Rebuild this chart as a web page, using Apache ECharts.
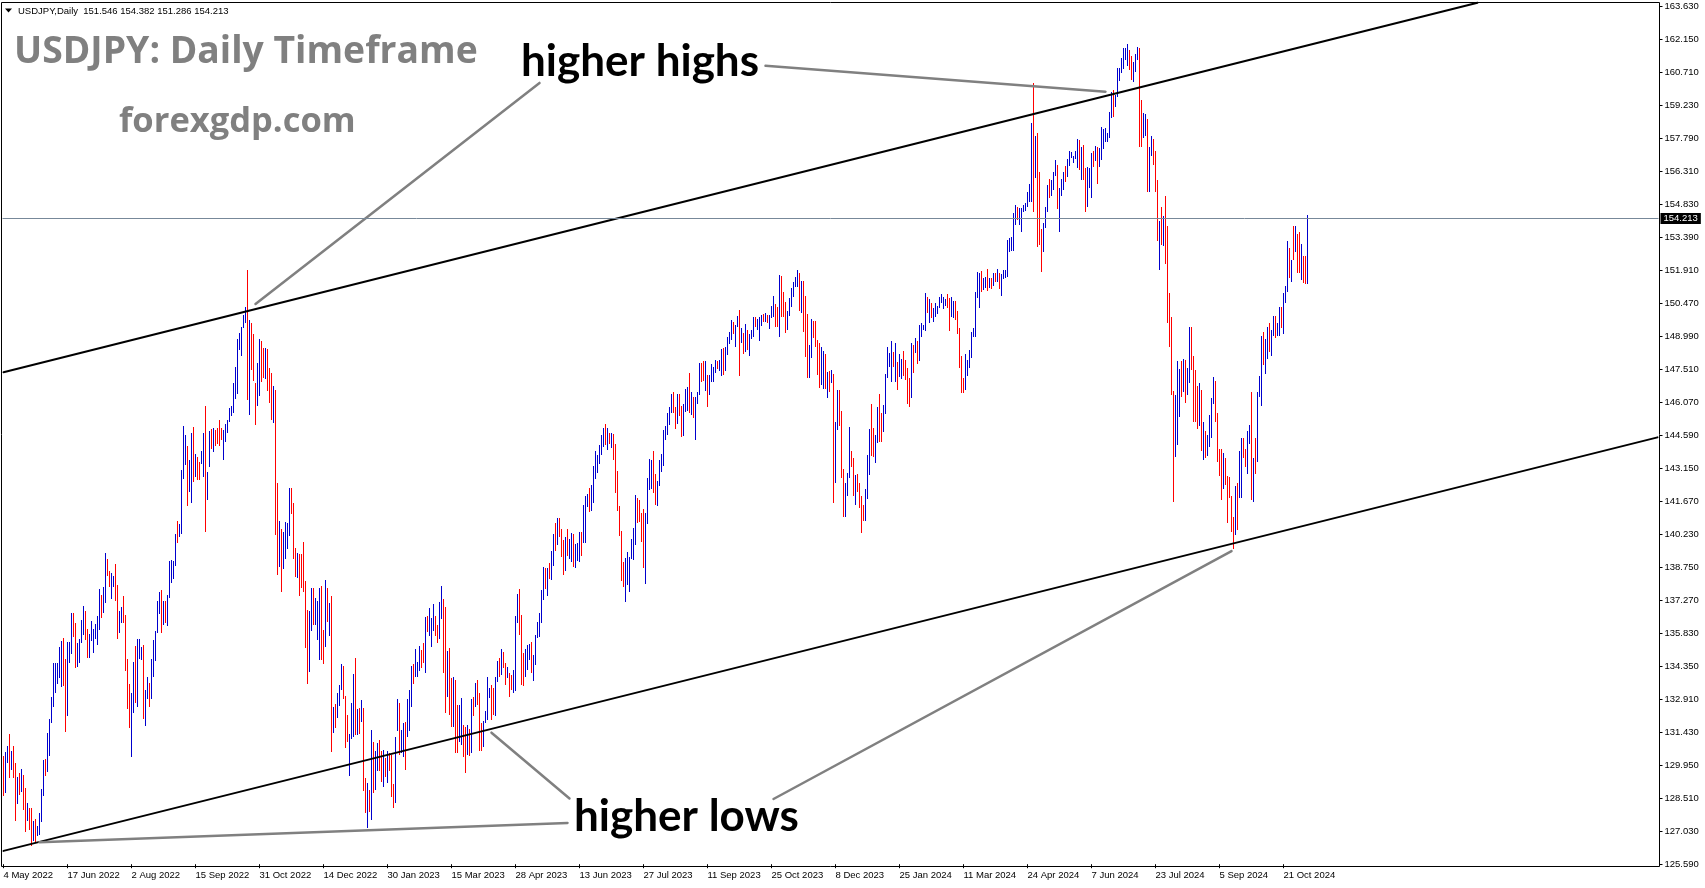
<!DOCTYPE html>
<html><head><meta charset="utf-8">
<script src="https://cdn.jsdelivr.net/npm/echarts@6/dist/echarts.min.js"></script>
<style>html,body{margin:0;padding:0;background:#fff}#c{width:1705px;height:888px}</style>
</head><body><div id="c"></div>
<script>
// ---- daily bars [open, high, low, close] ----
const bars2022 = [
[130.10,130.38,128.61,129.10],[129.10,130.58,128.76,130.20],[130.20,130.83,130.09,130.55],[130.55,131.36,129.43,130.25],[130.25,130.61,129.77,130.45],[130.45,130.83,129.43,129.95],[129.95,130.09,127.52,128.30],[128.30,129.47,128.26,129.25],[129.25,129.65,128.66,129.15],[129.15,129.82,128.80,129.35],[129.35,129.54,128.00,128.25],[128.25,128.98,127.03,127.80],[127.80,128.29,127.52,127.90],[127.90,128.07,127.11,127.85],[127.85,128.07,126.40,126.85],[126.85,127.52,126.62,127.30],[127.30,127.58,126.54,127.10],[127.10,127.28,126.84,127.12],[127.12,127.84,126.87,127.60],[127.60,128.92,127.47,128.70],
[128.70,130.21,128.61,130.05],[130.05,130.25,129.50,129.85],[129.85,131.42,129.69,130.90],[130.90,132.01,130.39,131.90],[131.90,133.02,131.86,132.70],[132.70,134.52,132.57,134.25],[133.90,134.52,133.16,134.35],[134.00,134.52,133.58,134.40],[134.20,135.23,133.83,134.45],[134.45,135.50,133.46,135.45],[135.45,135.62,133.49,133.90],[133.90,134.67,131.46,132.20],[132.20,135.45,132.16,135.00],[135.00,135.45,134.52,135.10],[135.10,136.74,134.91,136.60],[136.60,136.74,135.67,136.25],[136.25,136.30,134.27,134.90],[134.90,135.38,134.34,135.20],[135.20,135.59,134.49,135.45],[135.45,136.41,135.38,136.15],[136.15,137.03,135.75,136.60],[136.60,136.83,135.53,135.70],
[135.70,136.03,134.74,135.20],[135.20,135.79,134.74,135.70],[135.70,136.38,135.48,135.90],[135.85,136.03,134.94,135.92],[135.92,136.24,135.56,136.00],[136.00,136.59,135.30,136.10],[136.10,137.77,135.97,137.40],[137.40,137.52,136.49,136.85],[136.85,137.86,136.71,137.45],[137.45,139.37,137.18,138.95],[138.95,139.10,138.36,138.55],[138.55,138.60,137.89,138.15],[138.15,138.48,137.33,138.20],[138.05,138.36,137.89,138.25],[138.25,138.90,137.26,137.40],[137.40,137.96,135.56,136.10],[136.10,136.83,135.85,136.65],[136.65,137.00,136.27,136.95],[136.95,137.48,136.30,136.60],[136.60,136.65,134.17,134.25],[134.25,134.70,132.48,133.25],
[133.25,133.58,131.61,131.65],[131.65,133.19,130.36,133.10],[133.10,134.55,132.28,133.85],[133.85,135.26,132.75,133.00],[133.00,135.56,132.54,135.00],[134.90,135.59,134.67,135.00],[135.00,135.23,134.64,135.10],[135.10,135.30,132.01,132.90],[132.90,133.31,131.72,133.00],[133.00,133.90,132.90,133.45],[133.45,133.64,132.54,133.30],[133.30,134.70,132.93,134.20],[134.20,135.53,133.90,135.00],[135.00,135.94,134.61,135.85],[135.85,137.27,135.85,137.00],[137.00,137.65,136.68,137.45],[137.45,137.74,135.82,136.75],[136.75,137.27,136.18,137.10],[137.10,137.24,136.27,136.55],[136.55,137.51,136.15,137.45],[137.45,139.04,137.40,138.75],[138.75,139.07,138.04,138.80],[138.80,139.04,138.22,138.95],
[138.95,140.23,138.81,140.20],[140.20,140.82,139.84,140.15],[140.15,140.67,140.08,140.55],[140.55,143.06,140.23,142.80],[142.80,145.01,142.65,144.00],[144.00,144.60,143.28,144.10],[144.10,144.12,141.47,142.60],[142.60,143.51,142.10,142.80],[142.80,144.70,141.61,144.55],[144.55,144.96,142.52,143.15],[143.15,143.78,142.77,143.50],[143.50,143.64,142.64,142.90],[143.20,143.43,142.62,142.95],[143.40,143.92,143.34,143.75],[143.75,144.70,142.77,144.40],[144.40,145.89,140.31,142.35],[142.35,142.96,141.73,142.70],[143.30,144.78,143.20,144.70],[144.70,144.87,144.01,144.60],[144.15,144.91,143.87,144.40],[144.45,144.82,144.13,144.30],[144.60,144.92,144.22,144.50],
[144.80,145.27,144.13,144.55],[144.70,144.92,144.40,144.50],[143.90,144.82,143.52,144.60],[144.60,145.10,144.31,145.05],[144.90,145.27,144.69,145.20],[145.30,145.80,145.19,145.70],[145.65,145.89,145.45,145.80],[145.80,146.94,145.57,146.85],[146.85,147.64,146.20,147.20],[147.20,148.87,146.45,148.70],[148.70,149.13,148.38,149.00],[148.90,149.40,148.13,149.25],[149.40,149.92,149.36,149.85],[149.85,150.27,149.57,150.20],[150.20,151.92,146.15,147.65],[147.65,149.71,145.50,148.95],[148.95,149.57,147.51,148.15],[148.15,149.08,147.01,147.20],[146.90,146.94,145.05,146.25],[146.25,147.82,145.92,147.55],[147.55,148.87,146.33,148.70],
[148.70,148.80,146.98,148.15],[148.15,148.49,147.15,147.90],[147.90,148.49,147.08,148.25],[148.25,148.41,146.56,146.60],[146.80,147.57,146.03,146.65],[146.65,147.38,145.27,145.60],[145.60,146.77,145.13,146.40],[146.40,146.63,140.19,141.00],[141.00,142.47,138.43,138.80],[138.80,140.80,138.78,139.90],[139.90,140.45,137.64,139.25],[139.25,140.31,138.66,139.50],[139.50,140.75,139.13,140.20],[140.20,140.71,139.57,140.35],[140.35,142.26,140.13,142.05],[142.05,142.26,141.12,141.25],[141.25,141.62,139.13,139.55],[139.55,139.62,138.31,138.50],[138.50,139.40,138.29,139.15],[139.15,139.36,137.50,138.10],[138.60,139.34,137.82,138.10],[138.90,139.89,137.64,138.00],
[138.00,138.13,135.18,135.30],[135.30,136.85,133.57,134.25],[134.25,136.81,134.13,136.70],[136.70,137.82,135.92,137.15],[137.15,137.85,136.20,136.60],[136.60,137.41,136.20,136.70],[136.10,137.24,135.54,136.55],[136.55,137.85,134.66,137.70],[137.70,137.94,134.66,135.55],[135.55,135.97,134.48,135.40],[135.40,138.17,135.22,137.75],[137.75,137.82,136.32,136.60],[136.60,137.15,135.71,136.95],[136.95,137.47,130.57,131.70],[131.70,132.55,131.41,132.40],[132.50,132.69,131.64,132.30],[132.30,133.20,132.08,132.85],[132.85,133.55,132.62,133.40],[133.40,134.48,133.29,134.30],[134.30,134.39,132.90,133.10],[133.04,133.04,130.73,131.30],[132.10,132.20,131.01,131.15]
];
const bars2023 = [
[130.60,131.36,129.48,131.05],[131.20,132.73,131.15,132.55],[132.55,134.04,131.24,133.90],[133.90,134.75,131.33,132.10],[132.10,132.46,131.33,132.25],[132.25,132.50,131.36,132.15],[132.15,132.85,131.89,132.45],[132.45,132.50,128.83,129.20],[129.20,129.43,127.85,127.90],[127.90,129.17,127.20,128.50],[128.50,128.90,127.90,128.10],[128.10,131.53,127.55,128.90],[130.80,131.01,128.73,128.95],[128.95,130.62,128.90,129.60],[129.75,130.97,129.74,130.70],[130.70,131.11,129.71,130.15],[130.15,130.62,129.25,129.60],[129.60,130.65,129.03,130.25],[130.25,130.31,129.47,129.90],[129.90,130.61,129.20,130.40],[130.40,130.53,129.74,130.05],
[130.05,130.43,128.55,128.90],[128.90,129.14,128.07,128.65],[128.65,131.24,128.32,131.15],[131.55,132.91,131.51,132.60],[132.60,132.75,130.43,131.05],[131.05,131.54,130.53,131.40],[131.40,131.86,130.32,131.55],[131.55,131.91,129.77,131.30],[131.30,132.91,131.21,132.45],[132.45,133.31,131.51,133.15],[133.15,134.38,132.54,134.15],[134.15,134.46,133.58,133.90],[133.95,135.14,133.90,134.15],[134.05,134.57,133.90,134.25],[134.25,135.26,134.17,134.95],[134.95,135.08,134.27,134.85],[134.90,135.38,134.52,134.70],[134.70,136.56,134.05,136.45],[136.45,136.59,135.90,136.20],[136.20,136.93,135.70,136.25],
[135.90,136.49,135.23,136.15],[136.15,137.12,135.94,136.75],[136.55,136.59,135.70,135.85],[136.00,136.19,135.38,135.90],[135.90,137.21,135.56,137.15],[137.15,137.92,136.47,137.25],[137.25,137.35,134.08,136.10],[136.10,137.01,132.28,134.95],[133.20,135.05,133.02,133.40],[134.50,135.16,132.20,134.20],[133.80,133.83,131.69,133.40],[132.10,133.87,131.66,133.75],[133.70,133.75,130.50,131.85],[132.20,132.65,130.53,131.30],[131.30,132.65,131.02,132.45],[131.10,132.94,130.87,131.45],[131.45,131.76,130.32,130.80],[130.80,131.69,129.65,130.70],[130.70,131.76,130.43,131.55],[131.55,131.57,130.39,130.90],[130.90,132.90,130.50,132.85],[132.85,133.02,132.16,132.70],[132.70,133.61,132.57,133.25],
[133.25,133.75,132.65,132.90],[132.90,133.16,130.62,131.55],[131.55,131.86,130.62,131.35],[131.35,131.95,130.77,131.80],[131.85,132.38,131.83,132.15],[132.15,133.90,131.98,133.65],[133.00,133.39,132.94,133.25],[133.25,133.53,131.98,133.00],[133.00,133.39,132.20,132.55],[132.55,133.87,132.16,133.80],[133.80,134.61,133.68,134.50],[134.50,134.71,133.87,134.10],[134.10,135.11,133.98,134.70],[134.70,135.01,134.27,134.30],[134.30,134.49,133.53,134.15],[134.00,134.32,133.83,134.20],[134.00,134.05,133.02,133.70],[133.70,133.98,133.31,133.65],[133.65,134.20,133.19,133.95],[133.95,136.59,133.28,136.30],
[136.30,137.57,136.27,137.45],[137.45,137.77,135.75,136.55],[136.55,136.64,133.53,134.65],[134.65,134.94,133.49,134.25],[134.25,135.11,133.87,134.85],[134.85,135.31,134.20,135.15],[135.15,135.35,134.64,135.20],[135.20,135.45,134.08,134.35],[134.35,134.86,133.72,134.55],[134.55,135.75,134.42,135.70],[135.70,136.34,135.60,136.10],[136.10,136.71,135.65,136.40],[136.40,137.74,136.30,137.60],[137.60,138.78,137.30,138.70],[138.65,138.70,137.77,137.95],[137.95,138.70,137.48,138.55],[138.60,138.93,138.22,138.55],[138.55,139.47,138.19,139.25],[139.25,140.23,138.81,139.95],[140.50,140.73,139.49,140.05],[140.05,140.95,139.74,140.45],[140.65,140.95,140.11,140.25],[140.25,140.43,139.22,139.35],
[139.35,139.96,138.41,138.80],[138.80,140.11,138.60,139.95],[139.95,140.43,139.25,139.60],[139.50,139.99,139.10,139.65],[139.65,140.26,139.00,140.15],[140.15,140.22,138.78,139.05],[139.05,139.78,138.70,139.40],[139.40,139.81,139.04,139.55],[139.55,140.30,139.00,140.20],[140.20,140.30,139.25,140.05],[140.05,141.51,139.84,140.95],[140.30,141.91,139.84,141.80],[141.80,142.00,141.44,141.95],[141.95,142.25,141.22,141.50],[141.50,142.40,141.26,141.90],[141.90,143.24,141.61,143.10],[143.10,143.92,142.65,143.70],[143.10,143.73,142.92,143.50],[143.50,144.17,143.33,144.05],[144.05,144.61,143.73,144.50],[144.50,144.91,144.07,144.80],[144.80,145.10,144.17,144.30],
[144.30,144.91,143.95,144.65],[144.65,144.72,144.22,144.45],[144.45,144.72,144.02,144.60],[144.60,144.66,143.51,144.05],[144.05,144.22,142.06,142.20],[142.50,143.02,141.26,141.35],[141.35,141.47,140.13,140.35],[140.35,140.37,138.16,138.50],[138.50,139.00,137.89,138.10],[138.10,139.15,137.23,138.85],[138.85,139.44,137.97,139.30],[138.70,139.19,137.67,139.10],[139.15,139.99,139.10,139.70],[139.70,140.48,139.07,140.10],[140.10,141.96,139.74,141.75],[141.75,141.81,140.70,141.45],[141.45,141.73,140.77,140.90],[140.90,141.17,139.89,140.25],[140.30,141.32,138.70,139.45],[139.45,141.17,138.01,141.15],[141.15,142.69,140.67,142.30],
[142.30,143.54,142.18,143.35],[142.80,143.51,142.21,143.30],[143.30,143.92,142.06,142.55],[142.55,142.89,141.51,141.75],[141.75,142.59,141.47,142.45],[142.45,143.51,142.35,143.35],[143.35,143.77,142.99,143.70],[143.70,144.84,143.24,144.75],[144.75,145.01,144.39,144.95],[144.95,145.60,144.61,145.55],[145.55,145.87,145.06,145.60],[145.60,146.43,145.57,146.35],[146.35,146.53,145.60,145.80],[145.80,145.87,144.87,145.35],[145.35,146.43,145.10,146.20],[146.20,146.43,145.46,145.85],[145.85,145.90,144.54,144.85],[144.85,145.99,144.57,145.85],[145.85,146.64,145.65,146.45],[146.40,146.76,145.69,146.50],[146.50,147.35,145.60,145.90],[145.90,146.53,145.50,146.20],[146.20,146.28,145.35,145.55],
[145.55,146.31,144.39,146.20],[146.20,146.53,146.00,146.50],[146.50,147.82,146.39,147.70],[147.70,147.82,146.98,147.65],[147.65,147.91,147.02,147.25],[147.25,147.91,146.58,147.80],[147.20,147.27,145.87,146.55],[146.55,147.27,146.39,147.10],[147.10,147.76,146.98,147.45],[147.45,147.61,146.98,147.50],[147.50,147.94,147.35,147.85],[147.85,147.91,147.52,147.60],[147.60,147.94,147.47,147.85],[147.85,148.41,147.23,148.35],[148.35,148.46,147.27,147.55],[147.55,148.50,147.47,148.40],[148.40,148.97,148.16,148.85],[148.85,149.20,148.65,149.05],[149.05,149.71,148.83,149.60],[149.60,149.64,149.09,149.30],[149.25,149.49,148.53,149.35],
[149.40,149.89,149.39,149.85],[149.85,150.16,147.23,149.00],[149.00,149.34,148.71,149.10],[149.10,149.12,148.21,148.50],[148.50,149.53,148.31,149.30],[149.20,149.27,148.38,148.50],[148.50,149.09,148.12,148.75],[148.90,149.29,148.85,149.10],[149.10,149.83,148.94,149.75],[149.75,149.83,149.39,149.55],[149.55,149.74,149.27,149.60],[149.60,149.83,148.79,149.75],[149.75,149.93,149.45,149.85],[149.85,149.98,149.64,149.80],[149.80,150.04,149.64,149.90],[149.90,149.93,149.56,149.70],[149.70,149.93,149.30,149.85],[149.85,150.33,149.79,150.25],[150.25,150.77,149.86,150.40],[150.40,150.42,149.40,149.60],[149.60,150.27,149.41,149.45],[149.45,151.70,148.97,151.65],
[151.65,151.66,149.83,150.95],[150.95,150.97,149.83,150.40],[150.40,150.52,149.15,149.40],[149.40,150.12,149.27,150.00],[150.00,150.67,149.89,150.40],[150.40,151.12,150.27,150.95],[150.95,151.41,150.75,151.35],[151.35,151.63,151.19,151.50],[151.50,151.93,151.16,151.70],[151.70,151.81,150.12,150.40],[150.40,151.45,150.04,151.35],[151.35,151.45,149.19,150.70],[150.70,150.77,148.09,149.60],[149.60,149.98,147.12,148.30],[148.30,148.60,147.12,148.40],[148.40,149.74,148.01,149.50],[149.50,149.68,148.90,149.45],[149.45,149.68,148.53,149.40],[148.80,148.82,147.27,148.65],[148.65,148.70,146.68,147.45],[147.00,148.50,146.83,147.35],[147.35,148.35,146.64,148.15],
[148.10,148.20,146.65,146.80],[146.80,147.40,146.25,147.20],[147.20,147.45,146.50,147.15],[147.15,147.50,146.90,147.30],[147.30,147.32,141.61,144.10],[144.10,145.20,142.50,144.95],[144.95,146.60,144.85,146.20],[146.20,146.60,145.00,145.40],[145.40,145.70,142.70,142.90],[142.90,143.10,140.97,141.90],[141.90,142.50,141.00,142.20],[142.20,142.95,141.90,142.80],[142.80,144.95,142.70,143.80],[143.80,143.90,143.20,143.50],[143.50,143.60,141.90,142.10],[142.10,142.85,141.50,142.40],[142.40,142.90,142.10,142.35],[142.35,142.50,141.40,141.75],[141.75,141.90,140.25,141.40],[141.40,141.50,140.80,141.00]
];
const bars2024 = [
[141.00,142.20,140.80,142.00],[142.00,143.73,141.76,143.30],[143.30,144.87,142.84,144.60],[144.60,145.99,143.68,144.55],[144.55,144.91,143.65,144.25],[144.25,144.61,143.39,144.40],[144.40,145.84,144.27,145.70],[145.70,146.43,144.32,145.30],[145.30,145.57,144.32,144.90],[144.90,145.94,144.76,145.70],[145.70,147.32,145.55,147.20],[147.20,148.50,147.15,148.15],[147.90,148.24,147.64,148.15],[147.95,148.80,146.98,148.15],[148.15,148.31,147.61,148.10],[148.10,148.68,146.98,148.40],[147.85,147.86,146.61,147.45],[147.45,148.20,147.20,147.65],[147.65,147.97,147.08,147.90],[147.90,148.35,147.23,147.50],[147.60,147.94,147.05,147.55],[147.55,147.60,146.00,146.90],
[146.90,147.12,145.87,146.40],[146.40,148.71,146.24,148.40],[148.50,148.60,147.38,148.15],[148.25,148.90,148.23,148.60],[148.60,148.78,147.76,147.95],[147.95,149.49,147.91,149.30],[149.30,149.59,148.97,149.35],[149.30,149.49,149.27,149.35],[149.35,150.89,149.24,150.60],[150.60,150.74,150.00,150.55],[149.80,150.63,149.56,150.20],[150.20,150.45,149.79,150.15],[149.95,150.23,149.64,150.05],[149.95,150.45,149.83,150.20],[150.05,150.33,149.98,150.30],[150.30,150.74,150.23,150.50],[150.50,150.86,150.48,150.55],[150.40,150.71,150.18,150.65],[150.40,150.63,150.33,150.55],[150.60,150.86,150.25,150.50],[150.50,150.70,149.24,149.95],
[150.00,150.75,149.86,150.10],[150.10,150.55,149.79,150.50],[150.50,150.55,149.71,150.00],[150.00,150.11,149.08,149.40],[149.30,149.34,147.57,148.05],[148.05,148.13,146.46,147.05],[147.05,147.16,146.46,146.95],[146.95,148.19,146.61,147.70],[147.70,147.94,147.24,147.75],[147.75,148.38,147.60,148.30],[148.30,149.19,148.01,149.05],[149.05,149.34,148.97,149.15],[149.15,150.97,148.97,150.85],[150.85,151.86,150.70,151.25],[151.25,151.78,150.26,151.55],[151.55,151.88,150.97,151.40],[151.40,151.56,151.04,151.45],[151.45,151.63,151.14,151.55],[151.55,151.97,150.99,151.30],[151.30,151.56,151.14,151.35],[151.35,151.56,151.09,151.30],
[151.30,151.78,151.20,151.65],[151.65,151.78,151.38,151.55],[151.55,151.97,151.41,151.65],[151.65,151.78,151.09,151.30],[151.30,151.73,150.79,151.60],[151.60,151.93,151.53,151.85],[151.70,151.93,151.59,151.75],[151.75,153.26,151.63,153.15],[152.95,153.33,152.74,153.20],[153.20,153.41,152.77,153.25],[153.25,154.44,152.77,154.25],[154.25,154.81,153.92,154.70],[154.70,154.73,154.14,154.35],[154.35,154.66,153.92,154.60],[154.60,154.69,153.60,154.65],[154.65,154.81,154.48,154.80],[154.80,154.88,154.54,154.85],[154.85,155.37,154.73,155.30],[155.30,155.73,154.96,155.60],[155.60,158.43,154.96,158.30],[158.30,160.20,154.51,156.30],[156.30,157.87,156.02,157.80],
[157.80,157.99,152.96,155.00],[155.00,156.26,153.04,153.10],[153.10,153.75,151.85,152.95],[152.95,154.00,152.71,153.90],[153.90,154.73,153.81,154.65],[154.65,155.70,154.51,155.60],[155.60,155.96,155.13,155.45],[155.45,155.92,155.22,155.75],[155.75,156.29,155.47,156.20],[156.20,156.80,156.11,156.40],[156.40,156.58,154.63,154.90],[154.90,155.58,153.60,155.40],[155.40,155.96,155.22,155.65],[155.65,156.29,155.47,156.20],[156.20,156.55,155.81,156.15],[156.15,156.85,156.07,156.75],[156.75,157.20,156.55,156.95],[156.95,157.17,156.88,157.00],[156.75,156.99,156.66,156.90],[156.90,157.20,156.85,157.15],[157.15,157.73,156.43,157.60],[157.60,157.69,156.36,156.80],[156.80,157.40,155.92,157.25],
[157.25,157.47,155.92,156.10],[156.10,156.46,154.51,154.95],[154.95,156.51,154.73,156.10],[155.60,156.46,155.58,155.65],[155.65,157.10,155.11,156.75],[156.95,157.20,156.51,156.90],[156.90,157.44,156.76,157.15],[157.15,157.40,155.73,156.65],[156.65,157.35,156.51,157.05],[157.05,158.28,156.80,157.40],[157.40,158.18,157.30,157.70],[157.70,158.24,157.60,157.85],[157.85,157.99,157.59,157.90],[157.90,158.95,157.80,158.85],[158.85,159.83,158.68,159.75],[159.75,159.91,158.73,159.60],[159.60,159.69,159.17,159.65],[159.65,160.90,159.61,160.80],[160.80,160.87,160.31,160.85],[160.85,161.31,160.65,160.90],
[160.90,161.75,160.85,161.50],[161.50,161.78,161.24,161.55],[161.55,161.95,160.99,161.70],[161.65,161.68,160.79,161.20],[161.20,161.43,160.35,160.75],[160.75,161.13,160.28,160.85],[160.85,161.50,160.72,161.30],[161.30,161.83,161.24,161.60],[161.60,161.78,157.40,158.80],[158.80,159.45,157.40,157.85],[157.85,158.90,157.80,158.05],[158.05,158.85,157.85,158.35],[158.35,158.60,155.40,156.20],[156.20,157.40,155.40,157.35],[157.35,157.85,157.00,157.45],[157.45,157.75,156.60,157.00],[157.00,157.20,155.40,155.60],[155.60,155.90,153.20,153.90],[153.90,154.10,151.94,153.95],[153.95,154.70,153.05,153.75],[153.75,154.30,153.00,153.95],[153.95,155.21,152.19,152.70],[152.70,153.90,149.60,149.95],
[149.95,150.89,148.50,149.40],[149.40,149.83,146.39,146.50],[146.50,146.58,141.66,144.20],[144.20,146.39,143.62,144.35],[144.35,147.91,144.17,146.70],[146.70,147.52,145.43,147.25],[147.25,147.91,146.28,146.60],[146.60,148.00,146.50,147.20],[147.20,147.94,146.05,146.80],[146.80,147.60,146.40,147.30],[147.30,149.40,146.90,149.25],[149.25,149.40,147.50,147.60],[147.60,148.10,145.20,146.60],[146.60,147.50,145.20,145.30],[145.30,146.80,144.90,145.25],[145.25,146.90,145.00,146.25],[146.25,146.60,143.90,144.35],[144.35,145.20,143.50,144.55],[144.55,144.80,143.60,143.90],[143.90,144.60,143.70,144.55],[144.55,145.50,144.10,144.95],[144.95,146.25,144.50,146.15],
[146.15,147.20,146.00,146.95],[146.95,147.00,145.20,145.45],[145.45,145.60,143.40,143.70],[143.70,144.00,142.80,143.40],[143.40,144.00,141.75,142.30],[142.30,143.80,142.20,143.10],[143.10,143.60,142.40,142.45],[142.45,142.80,140.70,142.40],[142.40,142.75,141.80,141.85],[141.85,141.90,140.30,140.85],[140.85,141.00,139.58,140.60],[140.60,142.35,140.20,142.30],[142.30,142.50,140.40,142.25],[142.25,143.90,141.80,142.60],[142.60,144.50,141.80,143.85],[143.85,144.50,143.60,143.65],[143.65,144.00,143.20,143.25],[143.25,144.80,142.90,144.75],[144.75,145.05,144.20,144.80],[144.80,146.50,141.75,142.20],[142.20,143.60,141.65,143.60],
[143.60,144.50,142.90,143.55],[143.55,146.50,143.40,146.45],[146.45,147.25,146.30,146.90],[146.90,149.00,145.90,148.70],[148.70,149.20,147.70,148.15],[148.15,148.85,147.30,148.20],[148.20,149.40,148.00,149.30],[149.30,149.60,148.30,148.60],[148.60,149.25,148.10,149.10],[149.10,149.90,149.00,149.75],[149.75,149.90,148.90,149.20],[149.20,149.60,149.00,149.30],[149.30,150.30,149.00,150.10],[150.10,150.30,149.34,149.50],[149.50,150.90,149.08,150.80],[150.80,151.22,150.48,151.05],[151.05,153.23,150.97,152.75],[152.75,152.89,151.56,151.85],[151.85,152.37,151.41,152.30],[153.40,153.88,152.37,153.05],[153.05,153.88,152.74,153.40],[153.40,153.52,151.78,153.35],[153.35,153.63,151.81,152.00],
[152.00,153.08,151.48,152.95],[152.50,152.55,151.34,152.20],[152.20,152.55,151.30,151.55],[151.546,154.382,151.286,154.213]
];

// price-scale tick labels (bottom to top)
const yTickLabels = ['125.590','127.030','128.510','129.950','131.430','132.910','134.350','135.830','137.270','138.750','140.230','141.670','143.150','144.590','146.070','147.510','148.990','150.470','151.910','153.390','154.830','156.310','157.790','159.230','160.710','162.150','163.630'];
const priceMin = 125.59, priceMax = 163.63;
const currentPrice = 154.213;
const headerText = 'USDJPY,Daily  151.546 154.382 151.286 154.213';

// trend channel & annotation lines, as [bar index, price]
const channelUpper = [[0,147.40],[737,163.77]];
const channelLower = [[0,126.18],[827,144.51]];
const noteHighs1 = [[268,160.22],[126,150.42]];
const noteHighs2 = [[381,160.98],[551,159.83]];
const noteLows1 = [[282,127.42],[18,126.56]];
const noteLows2 = [[283,128.50],[244,131.42]];
const noteLows3 = [[385,128.48],[614,139.47]];

// ---- categories: broker trading days (incl. empty future slots) ----
const MONTHS = ['Jan','Feb','Mar','Apr','May','Jun','Jul','Aug','Sep','Oct','Nov','Dec'];
const SLOTS = 828;
const cats = [];
{
  const d = new Date(Date.UTC(2022, 4, 4));
  while (cats.length < SLOTS) {
    const wd = d.getUTCDay(), m = d.getUTCMonth(), day = d.getUTCDate(), y = d.getUTCFullYear();
    const skip = wd === 0 || wd === 6 || (m === 11 && day === 25) || (m === 0 && day === 1) || (y === 2023 && m === 0 && day === 2);
    if (!skip) cats.push(day + ' ' + MONTHS[m] + ' ' + y);
    d.setUTCDate(day + 1);
  }
}
const bars = bars2022.concat(bars2023, bars2024);
const barData = bars.map((b, i) => [i, b[0], b[1], b[2], b[3]]);
const lastIdx = bars.length - 1;
const labelOn = (i) => i % 32 === 0 && i <= lastIdx;

const UP = '#0000cd', DOWN = '#ff0000';
const FONT = '"Liberation Sans", Arial, sans-serif';
function lineSeries(data, color, width) {
  return { type: 'line', data: data, symbol: 'none', clip: false, silent: true, animation: false,
    xAxisIndex: 0, yAxisIndex: 0, z: 4, lineStyle: { color: color, width: width, cap: 'round' } };
}

const lowerSeries = lineSeries(channelLower, '#000', 2);
lowerSeries.markLine = { silent: true, symbol: ['none', 'none'], animation: false, precision: 3,
  lineStyle: { color: '#778899', width: 1, type: 'solid' },
  label: { show: true, position: 'end', distance: 2, formatter: currentPrice.toFixed(3), color: '#fff',
    backgroundColor: '#000', padding: [1, 3, 0, 3], fontFamily: FONT, fontSize: 9.5, lineHeight: 10 },
  emphasis: { disabled: true },
  data: [{ yAxis: currentPrice }] };

const chart = echarts.init(document.getElementById('c'), null, { renderer: 'canvas' });
chart.setOption({
  animation: false,
  backgroundColor: '#ffffff',
  grid: { left: 2.5, right: 46.5, top: 6, bottom: 23.8, containLabel: false },
  xAxis: {
    type: 'category', data: cats, boundaryGap: true, offset: 2.3,
    axisLine: { show: false },
    axisTick: { show: true, alignWithLabel: true, interval: labelOn, length: 4, lineStyle: { color: '#000' } },
    axisLabel: { interval: labelOn, align: 'left', margin: 4, color: '#000', fontFamily: FONT, fontSize: 9.5 },
    splitLine: { show: false }
  },
  yAxis: [
    { type: 'value', min: priceMin, max: priceMax, show: false, splitLine: { show: false } },
    { type: 'value', min: 0, max: yTickLabels.length - 1, interval: 1, position: 'right', offset: 1,
      axisLine: { show: false },
      axisTick: { show: true, length: 3, lineStyle: { color: '#000' } },
      axisLabel: { formatter: (v) => yTickLabels[v], margin: 5, color: '#000', fontFamily: FONT, fontSize: 9.5 },
      splitLine: { show: false } }
  ],
  series: [
    { type: 'custom', data: barData, silent: true, xAxisIndex: 0, yAxisIndex: 0, z: 2,
      encode: { x: 0, y: [3, 4] },
      renderItem: function (params, api) {
        const i = api.value(0), o = api.value(1), h = api.value(2), l = api.value(3), c = api.value(4);
        const top = api.coord([i, h]);
        const bot = api.coord([i, l]);
        const y0 = Math.round(top[1]), y1 = Math.round(bot[1]);
        return { type: 'rect', shape: { x: Math.floor(top[0]), y: y0, width: 1, height: Math.max(1, y1 - y0) },
          style: { fill: c >= o ? UP : DOWN } };
      } },
    lineSeries(channelUpper, '#000', 2),
    lowerSeries,
    lineSeries(noteHighs1, '#808080', 2.5),
    lineSeries(noteHighs2, '#808080', 2.5),
    lineSeries(noteLows1, '#808080', 2.5),
    lineSeries(noteLows2, '#808080', 2.5),
    lineSeries(noteLows3, '#808080', 2.5)
  ],
  graphic: [
    { type: 'rect', silent: true, z: 10, shape: { x: 1.5, y: 2.5, width: 1658, height: 864 }, style: { fill: 'none', stroke: '#000', lineWidth: 1 } },
    { type: 'polygon', silent: true, z: 10, shape: { points: [[5, 8.5], [12, 8.5], [8.5, 12.5]] }, style: { fill: '#000' } },
    { type: 'text', silent: true, z: 10, x: 18, y: 11, style: { text: headerText, font: '9.5px ' + FONT, fill: '#000', verticalAlign: 'middle' } },
    { type: 'text', silent: true, z: 10, x: 14, y: 52.5, style: { text: 'USDJPY: Daily Timeframe', font: 'bold 37.3px "Open Sans"', fill: '#808080', verticalAlign: 'middle' } },
    { type: 'text', silent: true, z: 10, x: 119, y: 122.5, style: { text: 'forexgdp.com', font: 'bold 34.5px "Open Sans"', fill: '#808080', verticalAlign: 'middle' } },
    { type: 'text', silent: true, z: 10, x: 521, y: 62, style: { text: 'higher highs', font: 'bold 44px Lato', fill: '#000', verticalAlign: 'middle' } },
    { type: 'text', silent: true, z: 10, x: 574, y: 817, style: { text: 'higher lows', font: 'bold 44px Lato', fill: '#000', verticalAlign: 'middle' } }
  ]
});
</script>
</body></html>
